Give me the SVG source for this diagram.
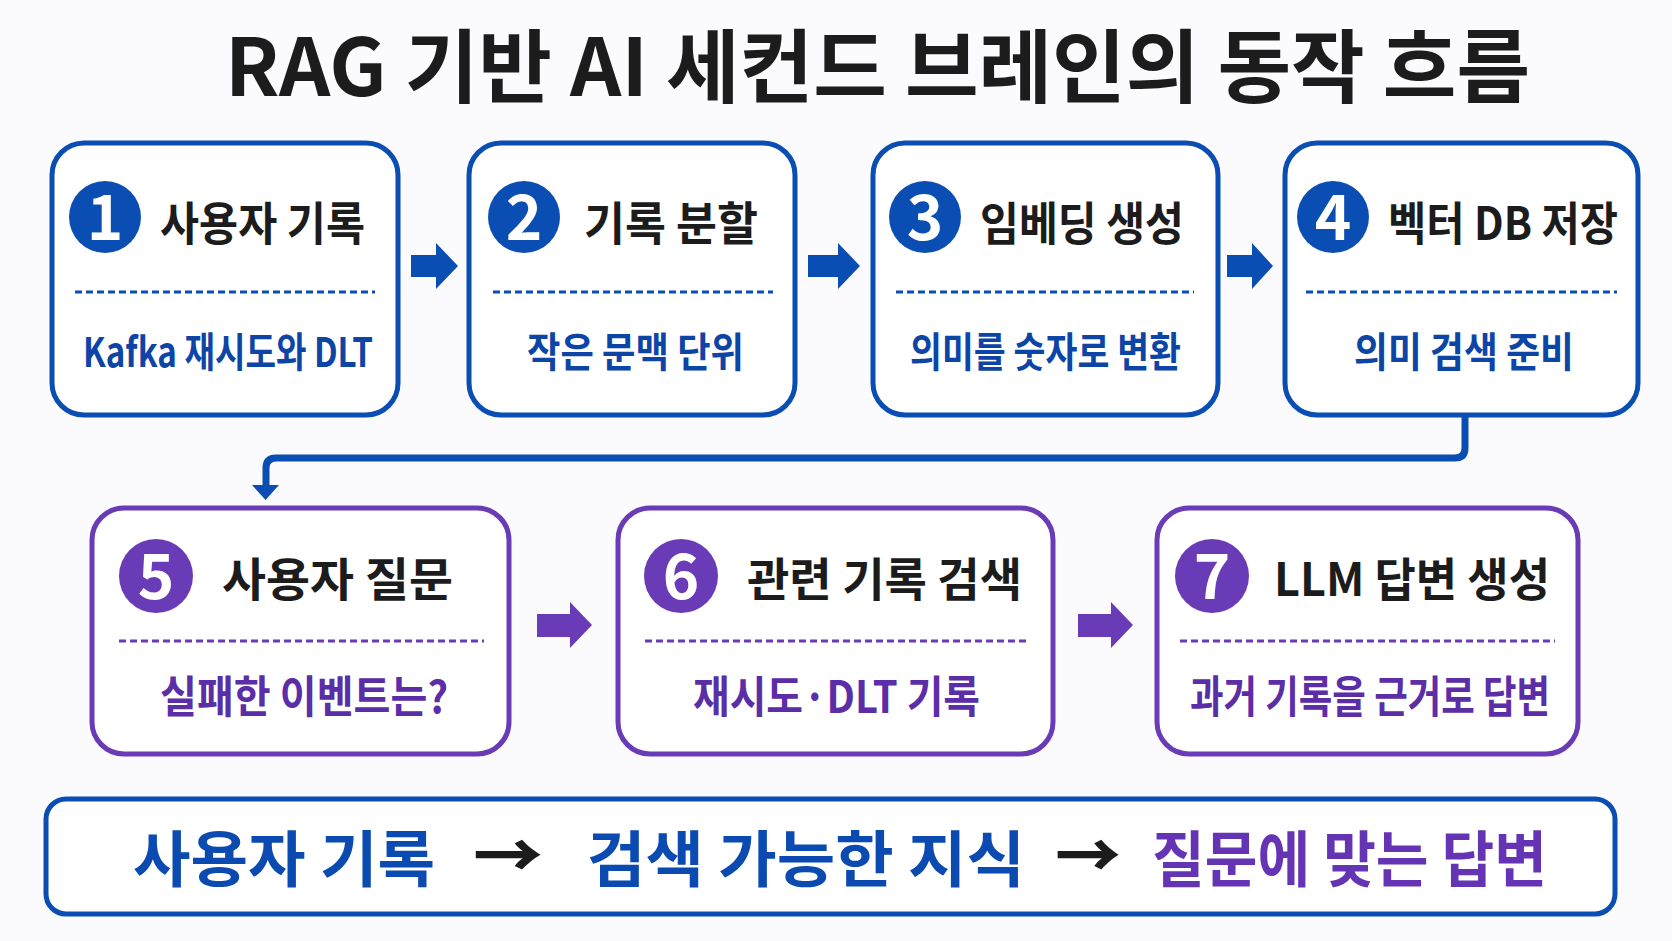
<svg xmlns="http://www.w3.org/2000/svg" width="1672" height="941" viewBox="0 0 1672 941">
<defs>
<style>
.bg{fill:#fbfbfd}
.t{font-family:"Noto Sans CJK KR","Noto Sans",sans-serif;font-weight:700}
.title{font-size:80px;fill:#1c1c1c}
.nt{font-size:46px;fill:#1c1c1c}
.num{font-size:62px;fill:#ffffff;text-anchor:middle}
.boxb{fill:#ffffff;stroke:#0a4db3;stroke-width:5}
.boxp{fill:#ffffff;stroke:#6a3bb6;stroke-width:5}
.cb{fill:#0a4db3}
.cp{fill:#6a3bb6}
.db{stroke:#0a4db3;stroke-width:3;stroke-dasharray:7 4;fill:none}
.dp{stroke:#6a3bb6;stroke-width:3;stroke-dasharray:7 4;fill:none}
.sb{font-size:41px;fill:#0c45a6}
.sp{font-size:44px;fill:#5b2ea8}
.ab{fill:#0a4db3}
.ap{fill:#6a3bb6}
.bot{font-size:61px}
</style>
</defs>
<rect class="bg" x="0" y="0" width="1672" height="941"/>
<text class="t title" x="225" y="96" textLength="1305" lengthAdjust="spacingAndGlyphs">RAG 기반 AI 세컨드 브레인의 동작 흐름</text>

<g id="connectors">
<polygon class="ab" points="411,255 436,255 436,243 458,266 436,289 436,277 411,277"/>
<polygon class="ab" points="808,255 838,255 838,243 860,266 838,289 838,277 808,277"/>
<polygon class="ab" points="1227,255 1252,255 1252,243 1273,266 1252,289 1252,277 1227,277"/>
<path d="M1465 415 V448 Q1465 458 1455 458 H276 Q266 458 266 468 V487" fill="none" stroke="#0a4db3" stroke-width="7"/>
<polygon class="ab" points="252,485 279,485 265.5,500"/>
<polygon class="ap" points="537,614 570,614 570,602 592,625 570,648 570,637 537,637"/>
<polygon class="ap" points="1078,614 1111,614 1111,602 1133,625 1111,648 1111,637 1078,637"/>
</g>

<g id="node1">
<rect class="boxb" x="52" y="143" width="346" height="272" rx="32"/>
<circle class="cb" cx="105" cy="217" r="36"/>
<text class="t num" x="105" y="240">1</text>
<text class="t nt" x="160" y="240" textLength="205" lengthAdjust="spacingAndGlyphs">사용자 기록</text>
<line class="db" x1="75" y1="292" x2="375" y2="292"/>
<text class="t sb" x="83" y="367" textLength="290" lengthAdjust="spacingAndGlyphs">Kafka 재시도와 DLT</text>
</g>

<g id="node2">
<rect class="boxb" x="469" y="143" width="326" height="272" rx="32"/>
<circle class="cb" cx="524" cy="217" r="36"/>
<text class="t num" x="524" y="240">2</text>
<text class="t nt" x="584" y="240" textLength="174" lengthAdjust="spacingAndGlyphs">기록 분할</text>
<line class="db" x1="493" y1="292" x2="773" y2="292"/>
<text class="t sb" x="527" y="367" textLength="217" lengthAdjust="spacingAndGlyphs">작은 문맥 단위</text>
</g>

<g id="node3">
<rect class="boxb" x="873" y="143" width="345" height="272" rx="32"/>
<circle class="cb" cx="925" cy="217" r="36"/>
<text class="t num" x="925" y="240">3</text>
<text class="t nt" x="980" y="240" textLength="204" lengthAdjust="spacingAndGlyphs">임베딩 생성</text>
<line class="db" x1="896" y1="292" x2="1194" y2="292"/>
<text class="t sb" x="910" y="367" textLength="271" lengthAdjust="spacingAndGlyphs">의미를 숫자로 변환</text>
</g>

<g id="node4">
<rect class="boxb" x="1285" y="143" width="353" height="272" rx="32"/>
<circle class="cb" cx="1333" cy="217" r="36"/>
<text class="t num" x="1333" y="240">4</text>
<text class="t nt" x="1388" y="240" textLength="230" lengthAdjust="spacingAndGlyphs">벡터 DB 저장</text>
<line class="db" x1="1306" y1="292" x2="1617" y2="292"/>
<text class="t sb" x="1354" y="367" textLength="220" lengthAdjust="spacingAndGlyphs">의미 검색 준비</text>
</g>

<g id="node5">
<rect class="boxp" x="92" y="508" width="417" height="246" rx="32"/>
<circle class="cp" cx="156" cy="576" r="37"/>
<text class="t num" x="156" y="599">5</text>
<text class="t nt" x="222" y="596" textLength="231" lengthAdjust="spacingAndGlyphs">사용자 질문</text>
<line class="dp" x1="119" y1="641" x2="484" y2="641"/>
<text class="t sp" x="160" y="713" textLength="288" lengthAdjust="spacingAndGlyphs">실패한 이벤트는?</text>
</g>

<g id="node6">
<rect class="boxp" x="618" y="508" width="435" height="246" rx="32"/>
<circle class="cp" cx="681" cy="576" r="37"/>
<text class="t num" x="681" y="599">6</text>
<text class="t nt" x="747" y="596" textLength="275" lengthAdjust="spacingAndGlyphs">관련 기록 검색</text>
<line class="dp" x1="645" y1="641" x2="1027" y2="641"/>
<text class="t sp" x="693" y="713" textLength="287" lengthAdjust="spacingAndGlyphs">재시도·DLT 기록</text>
</g>

<g id="node7">
<rect class="boxp" x="1157" y="508" width="421" height="246" rx="32"/>
<circle class="cp" cx="1212" cy="576" r="37"/>
<text class="t num" x="1212" y="599">7</text>
<text class="t nt" x="1274" y="596" textLength="276" lengthAdjust="spacingAndGlyphs">LLM 답변 생성</text>
<line class="dp" x1="1180" y1="641" x2="1555" y2="641"/>
<text class="t sp" x="1190" y="713" textLength="360" lengthAdjust="spacingAndGlyphs">과거 기록을 근거로 답변</text>
</g>

<g id="summary">
<rect x="46" y="799" width="1569" height="115" rx="20" fill="#ffffff" stroke="#0a4db3" stroke-width="5"/>
<text class="t bot" x="133" y="882" fill="#0b4ab0" textLength="302" lengthAdjust="spacingAndGlyphs">사용자 기록</text>
<text class="t bot" x="473" y="878" fill="#1c1c1c" style="font-weight:900" textLength="70" lengthAdjust="spacingAndGlyphs">→</text>
<text class="t bot" x="587" y="882" fill="#0b4ab0" textLength="438" lengthAdjust="spacingAndGlyphs">검색 가능한 지식</text>
<text class="t bot" x="1055" y="878" fill="#1c1c1c" style="font-weight:900" textLength="66" lengthAdjust="spacingAndGlyphs">→</text>
<text class="t bot" x="1152" y="882" fill="#6434b4" textLength="395" lengthAdjust="spacingAndGlyphs">질문에 맞는 답변</text>
</g>
</svg>
